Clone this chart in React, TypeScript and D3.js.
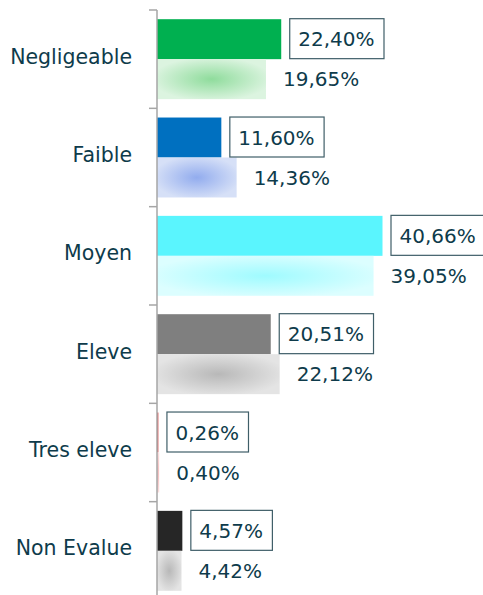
import { useRef, useEffect } from 'react';
import * as d3 from 'd3';

const categories = ['Negligeable', 'Faible', 'Moyen', 'Eleve', 'Tres eleve', 'Non Evalue'];
const currentValues = [22.40, 11.60, 40.66, 20.51, 0.26, 4.57];
const previousValues = [19.65, 14.36, 39.05, 22.12, 0.40, 4.42];
const darkColors = ['#00b050', '#0070c0', '#5af5fe', '#7f7f7f', '#e06666', '#262626'];
const lightCenter = ['#8fdc9c', '#92acee', '#9ffbff', '#b8b8b8', '#f4b4b4', '#b8b8b8'];
const lightEdge = ['#dcf4e0', '#d6e0f7', '#dcfeff', '#e4e4e4', '#fbe0e0', '#e4e4e4'];

const fmt = (v: number) => v.toFixed(2).replace('.', ',') + '%';

const App = () => {
  const svgRef = useRef<SVGSVGElement>(null);

  useEffect(() => {
    const width = 483;
    const height = 595;
    const axisX = 157;
    const textColor = '#0e3b4b';
    const font = '"DejaVu Sans", sans-serif';

    const svg = d3.select(svgRef.current);
    svg.selectAll('*').remove();

    const y = d3.scaleBand<string>()
      .domain(categories)
      .range([10, 600])
      .paddingInner(0)
      .paddingOuter(0);

    const sub = d3.scaleBand<string>()
      .domain(['cur', 'prev'])
      .range([0, y.bandwidth()])
      .paddingInner(0)
      .paddingOuter(0.23);

    const x = d3.scaleLinear()
      .domain([0, 40.66])
      .range([axisX, 382.5]);

    const defs = svg.append('defs');
    categories.forEach((c, i) => {
      const g = defs.append('radialGradient')
        .attr('id', `lg${i}`)
        .attr('cx', '0.5').attr('cy', '0.5').attr('r', '0.55');
      g.append('stop').attr('offset', '0%').attr('stop-color', lightCenter[i]);
      g.append('stop').attr('offset', '100%').attr('stop-color', lightEdge[i]);
    });

    const rows = svg.append('g')
      .selectAll('g')
      .data(categories)
      .enter()
      .append('g')
      .attr('transform', d => `translate(0,${y(d)})`);

    rows.append('rect')
      .attr('x', axisX)
      .attr('y', sub('cur')!)
      .attr('width', (d, i) => x(currentValues[i]) - axisX)
      .attr('height', sub.bandwidth())
      .attr('fill', (d, i) => darkColors[i]);

    rows.append('rect')
      .attr('x', axisX)
      .attr('y', sub('prev')!)
      .attr('width', (d, i) => x(previousValues[i]) - axisX)
      .attr('height', sub.bandwidth())
      .attr('fill', (d, i) => `url(#lg${i})`);

    // boxed current value
    const boxes = rows.append('rect')
      .attr('fill', '#ffffff')
      .attr('stroke', '#3f5e68')
      .attr('stroke-width', 1.2);

    const curText = rows.append('text')
      .attr('x', (d, i) => x(currentValues[i]) + 17)
      .attr('y', sub('cur')! + sub.bandwidth() / 2)
      .attr('dy', '0.36em')
      .attr('fill', textColor)
      .style('font-family', font)
      .style('font-size', '20px')
      .text((d, i) => fmt(currentValues[i]));

    curText.each(function (d, i) {
      const w = (this as SVGTextElement).getComputedTextLength();
      d3.select(boxes.nodes()[i])
        .attr('x', x(currentValues[i]) + 8.5)
        .attr('y', sub('cur')! - 0.5)
        .attr('width', w + 18)
        .attr('height', sub.bandwidth());
    });

    rows.append('text')
      .attr('x', (d, i) => x(previousValues[i]) + 17)
      .attr('y', sub('prev')! + sub.bandwidth() / 2)
      .attr('dy', '0.36em')
      .attr('fill', textColor)
      .style('font-family', font)
      .style('font-size', '20px')
      .text((d, i) => fmt(previousValues[i]));

    // axis
    const axis = svg.append('g');
    axis.append('line')
      .attr('x1', axisX).attr('x2', axisX)
      .attr('y1', 10).attr('y2', height)
      .attr('stroke', '#a6a6a6')
      .attr('stroke-width', 1.5);

    axis.selectAll('.tick')
      .data(categories)
      .enter()
      .append('line')
      .attr('x1', axisX - 8).attr('x2', axisX)
      .attr('y1', d => y(d)!).attr('y2', d => y(d)!)
      .attr('stroke', '#a6a6a6')
      .attr('stroke-width', 1.5);

    axis.selectAll('.cat')
      .data(categories)
      .enter()
      .append('text')
      .attr('x', 132)
      .attr('y', d => y(d)! + y.bandwidth() / 2 - 3)
      .attr('dy', '0.36em')
      .attr('text-anchor', 'end')
      .attr('fill', textColor)
      .style('font-family', font)
      .style('font-size', '20.5px')
      .text(d => d);

    svg.attr('width', width).attr('height', height);
  }, []);

  return (
    <div style={{ position: 'fixed', left: 0, top: 0, background: '#ffffff' }}>
      <svg ref={svgRef} width={483} height={595} style={{ display: 'block' }}></svg>
    </div>
  );
};

export default App;
